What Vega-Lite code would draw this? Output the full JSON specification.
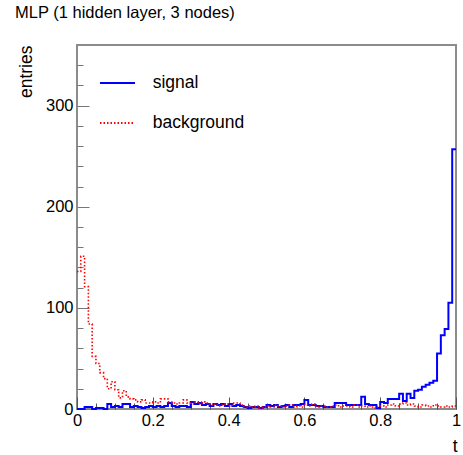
{
  "$schema": "https://vega.github.io/schema/vega-lite/v6.json",
  "width": 379,
  "height": 364,
  "autosize": {"type": "none"},
  "padding": {"left": 77, "top": 45, "right": 7, "bottom": 46},
  "background": "white",
  "title": {"text": "MLP (1 hidden layer, 3 nodes)", "anchor": "start", "frame": "group", "dx": -62, "offset": 10.5, "baseline": "alphabetic", "fontSize": 16.5, "font": "Liberation Sans", "fontWeight": "normal", "color": "#000"},
  "config": {"view": {"stroke": "#8c8c8c", "strokeWidth": 2}, "font": "Liberation Sans"},
  "datasets": {
    "signal": [
      {"t":0.00,"n":0,"series":"signal"},{"t":0.01,"n":0,"series":"signal"},{"t":0.02,"n":2,"series":"signal"},{"t":0.03,"n":2,"series":"signal"},{"t":0.04,"n":0,"series":"signal"},
      {"t":0.05,"n":1,"series":"signal"},{"t":0.06,"n":1,"series":"signal"},{"t":0.07,"n":0,"series":"signal"},{"t":0.08,"n":5,"series":"signal"},{"t":0.09,"n":2,"series":"signal"},
      {"t":0.10,"n":3,"series":"signal"},{"t":0.11,"n":2,"series":"signal"},{"t":0.12,"n":5,"series":"signal"},{"t":0.13,"n":5,"series":"signal"},{"t":0.14,"n":2,"series":"signal"},
      {"t":0.15,"n":3,"series":"signal"},{"t":0.16,"n":2,"series":"signal"},{"t":0.17,"n":1,"series":"signal"},{"t":0.18,"n":2,"series":"signal"},{"t":0.19,"n":3,"series":"signal"},
      {"t":0.20,"n":2,"series":"signal"},{"t":0.21,"n":3,"series":"signal"},{"t":0.22,"n":2,"series":"signal"},{"t":0.23,"n":3,"series":"signal"},{"t":0.24,"n":6,"series":"signal"},
      {"t":0.25,"n":3,"series":"signal"},{"t":0.26,"n":2,"series":"signal"},{"t":0.27,"n":3,"series":"signal"},{"t":0.28,"n":3,"series":"signal"},{"t":0.29,"n":2,"series":"signal"},
      {"t":0.30,"n":7,"series":"signal"},{"t":0.31,"n":5,"series":"signal"},{"t":0.32,"n":6,"series":"signal"},{"t":0.33,"n":4,"series":"signal"},{"t":0.34,"n":5,"series":"signal"},
      {"t":0.35,"n":3,"series":"signal"},{"t":0.36,"n":5,"series":"signal"},{"t":0.37,"n":4,"series":"signal"},{"t":0.38,"n":5,"series":"signal"},{"t":0.39,"n":3,"series":"signal"},
      {"t":0.40,"n":5,"series":"signal"},{"t":0.41,"n":3,"series":"signal"},{"t":0.42,"n":4,"series":"signal"},{"t":0.43,"n":3,"series":"signal"},{"t":0.44,"n":2,"series":"signal"},
      {"t":0.45,"n":1,"series":"signal"},{"t":0.46,"n":2,"series":"signal"},{"t":0.47,"n":2,"series":"signal"},{"t":0.48,"n":1,"series":"signal"},{"t":0.49,"n":2,"series":"signal"},
      {"t":0.50,"n":4,"series":"signal"},{"t":0.51,"n":3,"series":"signal"},{"t":0.52,"n":4,"series":"signal"},{"t":0.53,"n":2,"series":"signal"},{"t":0.54,"n":3,"series":"signal"},
      {"t":0.55,"n":4,"series":"signal"},{"t":0.56,"n":2,"series":"signal"},{"t":0.57,"n":4,"series":"signal"},{"t":0.58,"n":4,"series":"signal"},{"t":0.59,"n":5,"series":"signal"},
      {"t":0.60,"n":9,"series":"signal"},{"t":0.61,"n":4,"series":"signal"},{"t":0.62,"n":4,"series":"signal"},{"t":0.63,"n":3,"series":"signal"},{"t":0.64,"n":3,"series":"signal"},
      {"t":0.65,"n":2,"series":"signal"},{"t":0.66,"n":2,"series":"signal"},{"t":0.67,"n":2,"series":"signal"},{"t":0.68,"n":6,"series":"signal"},{"t":0.69,"n":6,"series":"signal"},
      {"t":0.70,"n":6,"series":"signal"},{"t":0.71,"n":4,"series":"signal"},{"t":0.72,"n":4,"series":"signal"},{"t":0.73,"n":4,"series":"signal"},{"t":0.74,"n":4,"series":"signal"},
      {"t":0.75,"n":12,"series":"signal"},{"t":0.76,"n":5,"series":"signal"},{"t":0.77,"n":4,"series":"signal"},{"t":0.78,"n":4,"series":"signal"},{"t":0.79,"n":1,"series":"signal"},
      {"t":0.80,"n":7,"series":"signal"},{"t":0.81,"n":6,"series":"signal"},{"t":0.82,"n":10,"series":"signal"},{"t":0.83,"n":10,"series":"signal"},{"t":0.84,"n":10,"series":"signal"},
      {"t":0.85,"n":15,"series":"signal"},{"t":0.86,"n":8,"series":"signal"},{"t":0.87,"n":15,"series":"signal"},{"t":0.88,"n":11,"series":"signal"},{"t":0.89,"n":18,"series":"signal"},
      {"t":0.90,"n":19,"series":"signal"},{"t":0.91,"n":22,"series":"signal"},{"t":0.92,"n":24,"series":"signal"},{"t":0.93,"n":26,"series":"signal"},{"t":0.94,"n":28,"series":"signal"},
      {"t":0.95,"n":55,"series":"signal"},{"t":0.96,"n":73,"series":"signal"},{"t":0.97,"n":79,"series":"signal"},{"t":0.98,"n":105,"series":"signal"},{"t":0.99,"n":257,"series":"signal"},
      {"t":1.00,"n":257,"series":"signal"}
    ],
    "background": [
      {"t":0.00,"n":136,"series":"background"},{"t":0.01,"n":151,"series":"background"},{"t":0.02,"n":121,"series":"background"},{"t":0.03,"n":84,"series":"background"},{"t":0.04,"n":52,"series":"background"},
      {"t":0.05,"n":45,"series":"background"},{"t":0.06,"n":36,"series":"background"},{"t":0.07,"n":30,"series":"background"},{"t":0.08,"n":20,"series":"background"},{"t":0.09,"n":27,"series":"background"},
      {"t":0.10,"n":19,"series":"background"},{"t":0.11,"n":11,"series":"background"},{"t":0.12,"n":18,"series":"background"},{"t":0.13,"n":12,"series":"background"},{"t":0.14,"n":10,"series":"background"},
      {"t":0.15,"n":9,"series":"background"},{"t":0.16,"n":7,"series":"background"},{"t":0.17,"n":9,"series":"background"},{"t":0.18,"n":6,"series":"background"},{"t":0.19,"n":6,"series":"background"},
      {"t":0.20,"n":7,"series":"background"},{"t":0.21,"n":6,"series":"background"},{"t":0.22,"n":10,"series":"background"},{"t":0.23,"n":10,"series":"background"},{"t":0.24,"n":7,"series":"background"},
      {"t":0.25,"n":6,"series":"background"},{"t":0.26,"n":5,"series":"background"},{"t":0.27,"n":6,"series":"background"},{"t":0.28,"n":9,"series":"background"},{"t":0.29,"n":6,"series":"background"},
      {"t":0.30,"n":5,"series":"background"},{"t":0.31,"n":7,"series":"background"},{"t":0.32,"n":5,"series":"background"},{"t":0.33,"n":7,"series":"background"},{"t":0.34,"n":6,"series":"background"},
      {"t":0.35,"n":4,"series":"background"},{"t":0.36,"n":5,"series":"background"},{"t":0.37,"n":3,"series":"background"},{"t":0.38,"n":4,"series":"background"},{"t":0.39,"n":5,"series":"background"},
      {"t":0.40,"n":3,"series":"background"},{"t":0.41,"n":6,"series":"background"},{"t":0.42,"n":6,"series":"background"},{"t":0.43,"n":4,"series":"background"},{"t":0.44,"n":2,"series":"background"},
      {"t":0.45,"n":3,"series":"background"},{"t":0.46,"n":2,"series":"background"},{"t":0.47,"n":3,"series":"background"},{"t":0.48,"n":1,"series":"background"},{"t":0.49,"n":2,"series":"background"},
      {"t":0.50,"n":3,"series":"background"},{"t":0.51,"n":2,"series":"background"},{"t":0.52,"n":4,"series":"background"},{"t":0.53,"n":3,"series":"background"},{"t":0.54,"n":2,"series":"background"},
      {"t":0.55,"n":3,"series":"background"},{"t":0.56,"n":4,"series":"background"},{"t":0.57,"n":2,"series":"background"},{"t":0.58,"n":3,"series":"background"},{"t":0.59,"n":2,"series":"background"},
      {"t":0.60,"n":4,"series":"background"},{"t":0.61,"n":3,"series":"background"},{"t":0.62,"n":5,"series":"background"},{"t":0.63,"n":2,"series":"background"},{"t":0.64,"n":3,"series":"background"},
      {"t":0.65,"n":3,"series":"background"},{"t":0.66,"n":2,"series":"background"},{"t":0.67,"n":3,"series":"background"},{"t":0.68,"n":4,"series":"background"},{"t":0.69,"n":2,"series":"background"},
      {"t":0.70,"n":3,"series":"background"},{"t":0.71,"n":3,"series":"background"},{"t":0.72,"n":2,"series":"background"},{"t":0.73,"n":4,"series":"background"},{"t":0.74,"n":2,"series":"background"},
      {"t":0.75,"n":3,"series":"background"},{"t":0.76,"n":2,"series":"background"},{"t":0.77,"n":3,"series":"background"},{"t":0.78,"n":1,"series":"background"},{"t":0.79,"n":2,"series":"background"},
      {"t":0.80,"n":3,"series":"background"},{"t":0.81,"n":2,"series":"background"},{"t":0.82,"n":4,"series":"background"},{"t":0.83,"n":5,"series":"background"},{"t":0.84,"n":3,"series":"background"},
      {"t":0.85,"n":5,"series":"background"},{"t":0.86,"n":6,"series":"background"},{"t":0.87,"n":4,"series":"background"},{"t":0.88,"n":5,"series":"background"},{"t":0.89,"n":3,"series":"background"},
      {"t":0.90,"n":2,"series":"background"},{"t":0.91,"n":4,"series":"background"},{"t":0.92,"n":3,"series":"background"},{"t":0.93,"n":2,"series":"background"},{"t":0.94,"n":4,"series":"background"},
      {"t":0.95,"n":3,"series":"background"},{"t":0.96,"n":2,"series":"background"},{"t":0.97,"n":3,"series":"background"},{"t":0.98,"n":2,"series":"background"},{"t":0.99,"n":3,"series":"background"},
      {"t":1.00,"n":3,"series":"background"}
    ]
  },
  "layer": [
    {
      "data": {"name": "signal"},
      "mark": {"type": "line", "interpolate": "step-after", "strokeWidth": 2},
      "encoding": {
        "x": {"field": "t", "type": "quantitative", "scale": {"domain": [0, 1], "nice": false, "zero": false},
          "axis": {"orient": "bottom", "values": [0, 0.2, 0.4, 0.6, 0.8, 1], "format": "~g", "title": "t", "titleX": 380, "titleY": 42.7, "titleAlign": "right", "titleBaseline": "alphabetic", "titleFontSize": 17.5, "titleFont": "Liberation Sans", "titleFontWeight": "normal", "titleColor": "#000", "labelFontSize": 16.5, "labelFont": "Liberation Sans", "labelColor": "#000", "labelFlush": false, "labelOverlap": false, "labelBound": false, "labelPadding": 15, "tickSize": -12, "tickColor": "#555", "tickWidth": 1, "domain": false, "grid": false}},
        "y": {"field": "n", "type": "quantitative", "scale": {"domain": [0, 360], "nice": false},
          "axis": {"orient": "left", "values": [0, 100, 200, 300], "title": "entries", "titleX": -50.5, "titleY": 0, "titleAlign": "right", "titleAngle": 270, "titleBaseline": "middle", "titleFontSize": 17.5, "titleFont": "Liberation Sans", "titleFontWeight": "normal", "titleColor": "#000", "labelFontSize": 16.5, "labelFont": "Liberation Sans", "labelColor": "#000", "labelOverlap": false, "labelBound": false, "labelFlush": false, "labelPadding": 16, "tickSize": -12, "tickColor": "#777", "tickWidth": 1, "domain": false, "grid": false}},
        "color": {"field": "series", "type": "nominal", "scale": {"domain": ["signal", "background"], "range": ["#0000ff", "#ff0000"]},
          "legend": {"orient": "none", "legendX": 22, "legendY": 19.5, "title": null, "symbolType": "stroke", "symbolSize": 1225, "symbolStrokeWidth": 2, "labelFontSize": 17.5, "labelFont": "Liberation Sans", "labelColor": "#000", "labelOffset": 16.7, "rowPadding": 13, "padding": 0}},
        "strokeDash": {"field": "series", "type": "nominal", "scale": {"domain": ["signal", "background"], "range": [[1, 0], [1.5, 2]]},
          "legend": {"orient": "none", "legendX": 22, "legendY": 19.5, "title": null, "symbolType": "stroke", "symbolSize": 1225, "symbolStrokeWidth": 2, "labelFontSize": 17.5, "labelFont": "Liberation Sans", "labelColor": "#000", "labelOffset": 16.7, "rowPadding": 13, "padding": 0}}
      }
    },
    {
      "data": {"name": "background"},
      "mark": {"type": "line", "interpolate": "step-after", "strokeWidth": 1.6},
      "encoding": {
        "x": {"field": "t", "type": "quantitative", "scale": {"domain": [0, 1], "nice": false, "zero": false},
          "axis": {"orient": "bottom", "values": [0.05, 0.1, 0.15, 0.25, 0.3, 0.35, 0.45, 0.5, 0.55, 0.65, 0.7, 0.75, 0.85, 0.9, 0.95], "labels": false, "title": null, "tickSize": -6, "tickColor": "#555", "tickWidth": 1, "domain": false, "grid": false}},
        "y": {"field": "n", "type": "quantitative", "scale": {"domain": [0, 360], "nice": false},
          "axis": {"orient": "left", "values": [20, 40, 60, 80, 120, 140, 160, 180, 220, 240, 260, 280, 320, 340], "labels": false, "title": null, "tickSize": -6, "tickColor": "#777", "tickWidth": 1, "domain": false, "grid": false}},
        "color": {"field": "series", "type": "nominal", "scale": {"domain": ["signal", "background"], "range": ["#0000ff", "#ff0000"]},
          "legend": {"orient": "none", "legendX": 22, "legendY": 19.5, "title": null, "symbolType": "stroke", "symbolSize": 1225, "symbolStrokeWidth": 2, "labelFontSize": 17.5, "labelFont": "Liberation Sans", "labelColor": "#000", "labelOffset": 16.7, "rowPadding": 13, "padding": 0}},
        "strokeDash": {"field": "series", "type": "nominal", "scale": {"domain": ["signal", "background"], "range": [[1, 0], [1.5, 2]]},
          "legend": {"orient": "none", "legendX": 22, "legendY": 19.5, "title": null, "symbolType": "stroke", "symbolSize": 1225, "symbolStrokeWidth": 2, "labelFontSize": 17.5, "labelFont": "Liberation Sans", "labelColor": "#000", "labelOffset": 16.7, "rowPadding": 13, "padding": 0}}
      }
    }
  ],
  "resolve": {"axis": {"x": "independent", "y": "independent"}}
}
